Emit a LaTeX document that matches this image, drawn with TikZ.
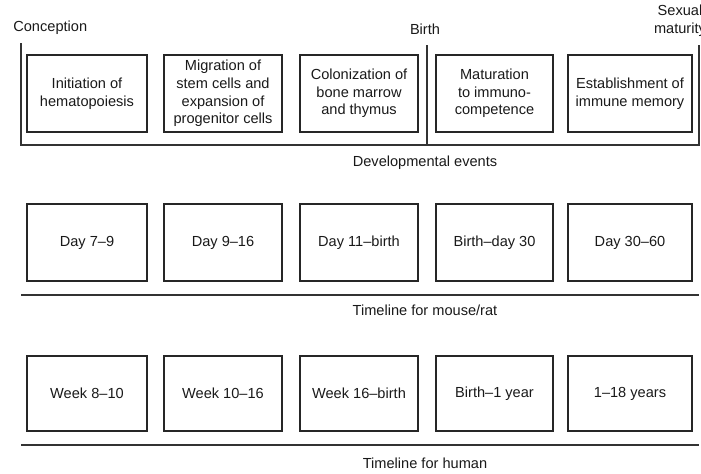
\documentclass[tikz,border=0pt]{standalone}
\usepackage{fontspec}
\setmainfont{Liberation Sans}
\usepackage{tikz}
\usetikzlibrary{positioning}

\tikzset{
	stagebox/.style={draw=black!85, line width=0.75pt, inner sep=0pt, align=center,
		font=\fontsize{8.3}{10}\selectfont, text=black!90},
	caption/.style={inner sep=0pt, align=center, font=\fontsize{8.3}{10}\selectfont, text=black!90},
	rule/.style={draw=black!80, line width=0.75pt}
}

\begin{document}
\begin{tikzpicture}

		\useasboundingbox (0,0) rectangle (14.02,-9.46);

		% developmental events
		\foreach \x/\w/\t [count=\i] in {1.74/2.40/{Initiation of\\hematopoiesis},
				4.46/2.36/{Migration of\\stem cells and\\expansion of\\progenitor cells},
				7.18/2.36/{Colonization of\\bone marrow\\and thymus},
				9.89/2.34/{Maturation\\to immuno-\\competence},
				12.60/2.48/{Establishment of\\immune memory}} {
			\node[stagebox, minimum width=\w cm, minimum height=1.54cm] (ev\i) at (\x,-1.87) {\t};
		}

		% mouse/rat
		\foreach \x/\w/\t [count=\i] in {1.74/2.40/{Day 7--9}, 4.46/2.36/{Day 9--16},
				7.18/2.36/{Day 11--birth}, 9.89/2.34/{Birth--day 30}, 12.60/2.48/{Day 30--60}} {
			\node[stagebox, minimum width=\w cm, minimum height=1.54cm] (ms\i) at (\x,-4.85) {\t};
		}

		% human
		\foreach \x/\w/\t [count=\i] in {1.74/2.40/{Week 8--10}, 4.46/2.36/{Week 10--16},
				7.18/2.36/{Week 16--birth}, 9.89/2.34/{Birth--1 year}, 12.60/2.48/{1--18 years}} {
			\node[stagebox, minimum width=\w cm, minimum height=1.50cm] (hu\i) at (\x,-7.87) {\t};
		}

		% bracket over the events
		\coordinate (conc) at (0.42,-0.86);
		\coordinate (birth) at (8.54,-0.90);
		\coordinate (sexm) at (13.98,-0.90);
		\draw[rule] (conc) |- (sexm |- 0,-2.9) -- (sexm);
		\draw[rule] (birth) -- (birth |- 0,-2.9);

		\draw[rule] (0.42,-5.9) -- (13.98,-5.9);
		\draw[rule] (0.42,-8.9) -- (13.98,-8.9);

		\node[caption, anchor=west] (lconc) at (0.26,-0.56) {Conception};
		\node[caption] (lbirth) at (8.5,-0.58) {Birth};
		\node[caption] (lsex) at (13.6,-0.42) {Sexual\\maturity};

		\node[caption] (tev) at (8.5,-3.26) {Developmental events};
		\node[caption] (tms) at (8.5,-6.2) {Timeline for mouse/rat};
		\node[caption] (thu) at (8.5,-9.26) {Timeline for human};

\end{tikzpicture}
\end{document}
